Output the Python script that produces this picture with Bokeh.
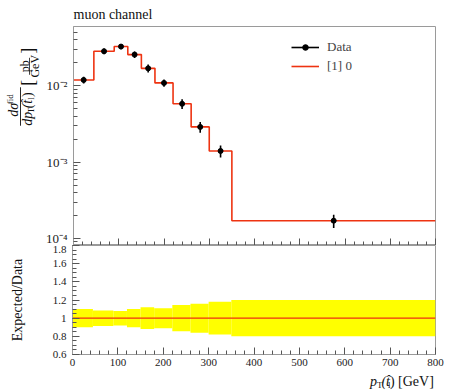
import numpy as np
from bokeh.plotting import figure
from bokeh.models import (Range1d, Legend, LegendItem, FixedTicker, CustomJSTickFormatter,
                          ColumnDataSource)
from bokeh.core.properties import value
from bokeh.layouts import column, row
from bokeh.embed import file_html
from bokeh.resources import INLINE

# ---------------- data ----------------
bin_edges = [0, 45, 90, 120, 150, 180, 220, 260, 300, 350, 800]
data_values = [0.0119, 0.0283, 0.0326, 0.0256, 0.0169, 0.0109, 0.0058, 0.00289, 0.0014, 0.000171]
mc_values = [0.0119, 0.0283, 0.0326, 0.0256, 0.0169, 0.0109, 0.0058, 0.00289, 0.0014, 0.000171]
rel_errors = [0.10, 0.085, 0.08, 0.10, 0.12, 0.11, 0.145, 0.16, 0.18, 0.20]
x_major_ticks = [0, 100, 200, 300, 400, 500, 600, 700, 800]
ratio_ticks = [0.6, 0.8, 1.0, 1.2, 1.4, 1.6, 1.8]
title_text = "muon channel"
legend_labels = ["Data", "[1] 0"]

FONT = "Liberation Serif"
RED = "#EE3311"
FRAME_COL = "#9a9a9a"
TICK_COL = "#555555"

edges = np.array(bin_edges, dtype=float)
lefts, rights = edges[:-1], edges[1:]
centers = 0.5 * (lefts + rights)
dv = np.array(data_values)
err = np.array(rel_errors)
mc_step_y = list(mc_values) + [mc_values[-1]]

x_range = Range1d(0, 800)


def strip(width, height, x0, y0):
    """A bare figure whose data coordinates equal page pixels (y downwards)."""
    f = figure(width=width, height=height, x_range=Range1d(x0, x0 + width),
               y_range=Range1d(y0 + height, y0), output_backend="svg",
               toolbar_location=None, x_axis_location=None, y_axis_location=None,
               min_border=0, min_border_left=0, min_border_right=0,
               min_border_top=0, min_border_bottom=0)
    f.outline_line_color = None
    f.xgrid.visible = False
    f.ygrid.visible = False
    f.background_fill_color = "white"
    f.border_fill_color = "white"
    return f


def txt(f, x, y, s, size="13px", style="normal", align="left", angle=0.0):
    f.text(x=[x], y=[y], text=[s], angle=angle, text_font=value(FONT),
           text_font_size=size, text_font_style=style, text_align=align,
           text_baseline="middle", text_color="#111111")


def style_axes(p):
    for ax in p.axis:
        ax.axis_line_color = FRAME_COL
        ax.major_tick_line_color = TICK_COL
        ax.minor_tick_line_color = TICK_COL
        ax.major_tick_in = 7
        ax.major_tick_out = 0
        ax.minor_tick_in = 4
        ax.minor_tick_out = 0
        ax.major_label_text_font = FONT
        ax.major_label_text_font_size = "11px"
        ax.major_label_text_color = "#222222"
    p.xgrid.visible = False
    p.ygrid.visible = False
    p.outline_line_color = FRAME_COL
    p.background_fill_color = "white"
    p.border_fill_color = "white"


# ---------------- y-label strip (main panel) ----------------
ylab = strip(42, 245, 0, 0)
up = np.pi / 2
txt(ylab, 13, 101, "d\u03c3", "14px", "italic", "left", up)
txt(ylab, 9, 87, "fid", "9px", "normal", "left", up)
ylab.segment(x0=[20], y0=[68], x1=[20], y1=[111], line_color="#111111", line_width=0.9)
txt(ylab, 27, 111, "dp", "14px", "italic", "left", up)
txt(ylab, 30.5, 97, "T", "9px", "normal", "left", up)
txt(ylab, 27, 91.5, "(t\u0302", "14px", "italic", "left", up)
txt(ylab, 30.5, 82, "l", "9px", "normal", "left", up)
txt(ylab, 27, 79, ")", "14px", "normal", "left", up)
txt(ylab, 27, 63, "[", "18px", "normal", "center", up)
txt(ylab, 24, 44.5, "pb", "12px", "normal", "center", up)
ylab.segment(x0=[29], y0=[35], x1=[29], y1=[54], line_color="#111111", line_width=0.8)
txt(ylab, 34.5, 44.5, "GeV", "12px", "normal", "center", up)
txt(ylab, 27, 27, "]", "18px", "normal", "center", up)

# ---------------- main panel ----------------
p = figure(width=408, height=245, y_axis_type="log",
           x_range=x_range, y_range=Range1d(8.09e-5, 0.0597),
           output_backend="svg", toolbar_location=None,
           min_border_left=30, min_border_right=15, min_border_top=26,
           min_border_bottom=0)
style_axes(p)
p.title.text = title_text
p.title.align = "left"
p.title.text_font = FONT
p.title.text_font_size = "14px"
p.title.text_font_style = "normal"
p.title.text_color = "#111111"
p.title.standoff = 9

minor_x = [v for v in range(0, 801, 20) if v % 100 != 0]
p.xaxis.ticker = FixedTicker(ticks=x_major_ticks, minor_ticks=minor_x)
p.xaxis.major_label_text_font_size = "0px"
p.xaxis.major_label_standoff = 0
p.xaxis.axis_line_color = "#444444"

log_major = [1e-4, 1e-3, 1e-2]
log_minor = [k * 10.0 ** e for e in (-5, -4, -3, -2) for k in range(2, 10)]
p.yaxis.ticker = FixedTicker(ticks=log_major, minor_ticks=log_minor)
p.yaxis.formatter = CustomJSTickFormatter(code="""
const e = Math.round(Math.log10(tick));
const sup = {'-':'\u207b','0':'\u2070','1':'\u00b9','2':'\u00b2','3':'\u00b3','4':'\u2074','5':'\u2075','6':'\u2076','7':'\u2077','8':'\u2078','9':'\u2079'};
return '10' + String(e).split('').map(c => sup[c]).join('');
""")
p.yaxis.major_label_text_font_size = "13px"
p.yaxis.major_label_standoff = 6

mc_line = p.step(x=list(edges), y=mc_step_y, mode="after", line_color=RED, line_width=1.6)

src = ColumnDataSource(dict(x=centers, y=dv, lo=dv * (1 - err), hi=dv * (1 + err)))
seg = p.segment(x0="x", y0="lo", x1="x", y1="hi", source=src, line_color="black", line_width=1.6)
dots = p.scatter(x="x", y="y", source=src, size=5, color="black")

legend = Legend(items=[LegendItem(label=legend_labels[0], renderers=[seg, dots]),
                       LegendItem(label=legend_labels[1], renderers=[mc_line])],
                location=(218, 171), glyph_width=28, glyph_height=14, label_height=14,
                label_standoff=8, spacing=3, padding=0, margin=0,
                border_line_alpha=0, background_fill_alpha=0,
                label_text_font=FONT, label_text_font_size="13px")
p.add_layout(legend, "center")

# ---------------- ratio panel ----------------
r = figure(width=450, height=129, x_range=x_range, y_range=Range1d(0.6, 1.8),
           output_backend="svg", toolbar_location=None,
           min_border_left=72, min_border_right=15, min_border_top=0, min_border_bottom=20)
style_axes(r)
r.xaxis.ticker = FixedTicker(ticks=x_major_ticks, minor_ticks=minor_x)
r.xaxis.major_label_standoff = 4
ratio_minor = [round(0.6 + 0.05 * i, 2) for i in range(25)]
r.yaxis.ticker = FixedTicker(ticks=ratio_ticks, minor_ticks=ratio_minor)
r.yaxis.formatter = CustomJSTickFormatter(code="return Number(tick.toFixed(1)).toString();")
r.yaxis.major_label_standoff = 6
r.yaxis.axis_label = "Expected/Data"
r.yaxis.axis_label_text_font = FONT
r.yaxis.axis_label_text_font_size = "14px"
r.yaxis.axis_label_text_font_style = "normal"
r.yaxis.axis_label_text_color = "#111111"
r.yaxis.axis_label_standoff = 25

r.quad(left=lefts, right=rights, bottom=1 - err, top=1 + err,
       fill_color="#ffff00", line_alpha=0)
ratio_line = [m / d for m, d in zip(mc_values, data_values)]
r.step(x=list(edges), y=ratio_line + [ratio_line[-1]], mode="after", line_color=RED, line_width=1.3)

# ---------------- x-label strip ----------------
xlab = strip(450, 16, 0, 374)
txt(xlab, 377.5, 381, "p", "14px", "italic", "right")
txt(xlab, 377.5, 384, "T", "9px", "normal", "left")
txt(xlab, 383, 381, "(t\u0302", "14px", "italic", "left")
txt(xlab, 391, 384, "l", "9px", "normal", "left")
txt(xlab, 393.5, 381, ") [GeV]", "14px", "normal", "left")

layout = column(row(ylab, p, spacing=0), r, xlab, spacing=0)
open("out.html", "w").write(file_html(layout, INLINE))
